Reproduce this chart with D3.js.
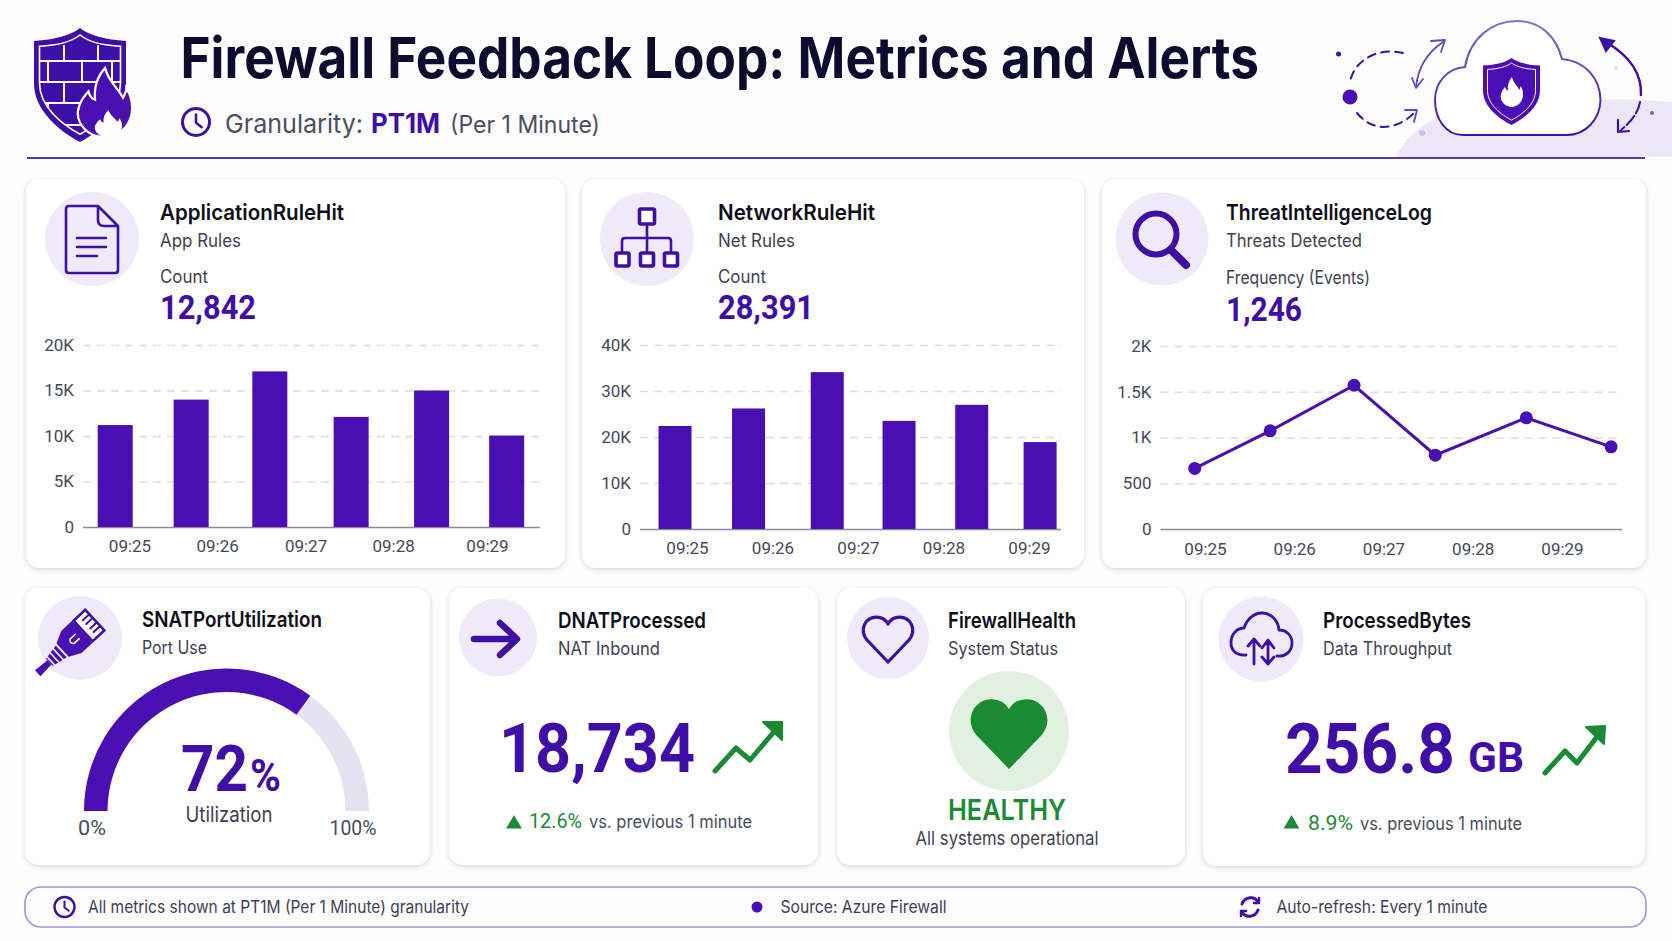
<!DOCTYPE html>
<html>
<head>
<meta charset="utf-8">
<script src="https://cdn.jsdelivr.net/npm/d3@7"></script>
<style>
  html, body { margin: 0; padding: 0; background: #fdfdfe; overflow: hidden; }
  text { font-family: Inter, sans-serif; }
  .num text, text.num { font-family: Roboto, sans-serif; }
</style>
</head>
<body>
<svg id="chart"></svg>
<script>
const width = 1672;
const height = 941;

const purple = '#4a0fb3';
const deep = '#3f0ea6';
const green = '#1b8a34';
const lilac = '#efeafa';

const timeLabels = ['09:25', '09:26', '09:27', '09:28', '09:29'];
const labelMinutes = [0, 1, 2, 3, 4];
const appLabelMinutes = [0, 0.98, 1.97, 2.95, 4]; // the labels in this card are not evenly spaced

// x values are minutes after 09:25, as read against the labels in the picture
const appRuleMinutes = [-0.16, 0.69, 1.57, 2.48, 3.38, 4.22];
const appRuleValues = [11200, 14000, 17100, 12100, 15000, 10050];
const appRuleTicks = [0, 5000, 10000, 15000, 20000];

const netRuleMinutes = [-0.14, 0.72, 1.64, 2.48, 3.33, 4.13];
const netRuleValues = [22400, 26200, 34100, 23500, 27000, 18900];
const netRuleTicks = [0, 10000, 20000, 30000, 40000];

const threatMinutes = [-0.115, 0.73, 1.67, 2.58, 3.6, 4.55];
const threatValues = [662, 1073, 1571, 807, 1215, 898];
const threatTicks = [0, 500, 1000, 1500, 2000];

const snatLabel = 72;
const snatArcValue = 70; // the arc in the picture stops a little short of its label

const svg = d3.select('#chart').attr('width', width).attr('height', height)
  .attr('viewBox', `0 0 ${width} ${height}`);

const defs = svg.append('defs');
const shadow = defs.append('filter').attr('id', 'cardShadow')
  .attr('x', '-5%').attr('y', '-5%').attr('width', '110%').attr('height', '112%');
shadow.append('feDropShadow').attr('dx', 0).attr('dy', 1.5).attr('stdDeviation', 2.5)
  .attr('flood-color', '#1a1640').attr('flood-opacity', 0.16);
const cloudGrad = defs.append('linearGradient').attr('id', 'cloudStroke')
  .attr('x1', 0).attr('y1', 0).attr('x2', 0).attr('y2', 1);
cloudGrad.append('stop').attr('offset', 0).attr('stop-color', '#8a70cc');
cloudGrad.append('stop').attr('offset', 1).attr('stop-color', '#3f0ea6');

const SHIELD = 'M50 0C60 8 78 13 100 14L100 60C100 90 72 112 50 124C28 112 0 90 0 60L0 14C22 13 40 8 50 0Z';
const FLAME = 'M52 0C58 26 72 34 84 56C88 48 90 44 90 38C104 62 104 92 88 112C78 124 64 130 50 130C30 130 10 118 4 94C0 74 10 58 22 44C24 52 28 58 34 60C32 36 38 16 52 0Z';
const HEART = 'M50 90L8 46C-8 26 4 0 27 0C38 0 46 6 50 14C54 6 62 0 73 0C96 0 108 26 92 46Z';

// text helper: w squeezes the string to the width it has in the picture
function label(g, str, x, y, size, opts = {}) {
  const t = g.append('text').attr('x', x).attr('y', y).text(str)
    .attr('font-size', size)
    .attr('font-weight', opts.weight || 400)
    .attr('fill', opts.color || '#3f4150')
    .attr('text-anchor', opts.anchor || 'start');
  if (opts.num) t.attr('class', 'num');
  if (opts.w) t.attr('textLength', opts.w).attr('lengthAdjust', 'spacingAndGlyphs');
  return t;
}

function card(x, y, w, h) {
  svg.append('rect').attr('x', x).attr('y', y).attr('width', w).attr('height', h)
    .attr('rx', 14).attr('fill', '#fff').attr('filter', 'url(#cardShadow)');
}

function badge(cx, cy, r) {
  svg.append('circle').attr('cx', cx).attr('cy', cy).attr('r', r).attr('fill', lilac);
}

function clockIcon(g, cx, cy, r, sw) {
  g.append('circle').attr('cx', cx).attr('cy', cy).attr('r', r)
    .attr('fill', 'none').attr('stroke', deep).attr('stroke-width', sw);
  g.append('path').attr('d', `M${cx} ${cy - r * 0.55}V${cy + r * 0.05}L${cx + r * 0.42} ${cy + r * 0.38}`)
    .attr('fill', 'none').attr('stroke', deep).attr('stroke-width', sw * 0.85)
    .attr('stroke-linecap', 'round').attr('stroke-linejoin', 'round');
}

function line(g, d, color, sw) {
  return g.append('path').attr('d', d).attr('fill', 'none').attr('stroke', color)
    .attr('stroke-width', sw).attr('stroke-linecap', 'round').attr('stroke-linejoin', 'round');
}

function axes(o) {
  const g = svg.append('g').attr('class', 'num');
  const x = d3.scaleLinear().domain([0, 4]).range(o.xRange);
  const y = d3.scaleLinear().domain(o.yDomain).range(o.yRange);
  const fmt = (d) => (d >= 1000 ? `${d / 1000}K` : `${d}`);

  const yAxis = g.append('g').attr('transform', `translate(${o.left},0)`)
    .call(d3.axisLeft(y).tickValues(o.ticks).tickFormat(fmt)
      .tickSize(o.left - o.right).tickPadding(9));
  yAxis.select('.domain').remove();
  yAxis.selectAll('.tick line')
    .attr('stroke', (d) => (d === 0 ? '#8b8b96' : '#dcdce2'))
    .attr('stroke-width', (d) => (d === 0 ? 1.6 : 1.4))
    .attr('stroke-dasharray', (d) => (d === 0 ? null : '8 6'));
  yAxis.selectAll('text').attr('font-size', 17).attr('fill', '#46485a');

  const xAxis = g.append('g').attr('transform', `translate(0,${o.labelY})`)
    .call(d3.axisBottom(x).tickValues(o.labelAt)
      .tickFormat((d) => timeLabels[o.labelAt.indexOf(d)])
      .tickSize(0).tickPadding(0));
  xAxis.select('.domain').remove();
  xAxis.selectAll('text').attr('font-size', 17).attr('fill', '#46485a');
  return { x, y };
}

function bars(scales, minutes, values, barW) {
  const base = scales.y(0);
  svg.append('g').selectAll('rect').data(values).join('rect')
    .attr('x', (d, i) => scales.x(minutes[i]) - barW / 2)
    .attr('y', (d) => scales.y(d))
    .attr('width', barW)
    .attr('height', (d) => base - scales.y(d))
    .attr('fill', purple);
}

function trendArrow(a, b, c, d, h1, h2, h3) {
  const g = svg.append('g');
  line(g, `M${a}L${b}L${c}L${d}`, green, 5);
  g.append('path').attr('d', `M${h1}L${h2}L${h3}Z`).attr('fill', green)
    .attr('stroke', green).attr('stroke-width', 2).attr('stroke-linejoin', 'round');
}

function deltaRow(tx, ty, pct, pctX, pctW, vsX, vsW, baseline) {
  svg.append('path').attr('d', d3.symbol(d3.symbolTriangle, 108)())
    .attr('transform', `translate(${tx},${ty})`).attr('fill', green);
  label(svg, pct, pctX, baseline, 19.5, { color: green, w: pctW, num: true });
  label(svg, 'vs. previous 1 minute', vsX, baseline, 18, { color: '#4a4c5c', w: vsW });
}

/* ---------- header ---------- */
svg.append('path')
  .attr('d', 'M1397 155C1410 132 1425 122 1445 116L1600 100C1625 98 1650 101 1672 102V157H1397Z')
  .attr('fill', '#ece7f7');

// shield logo
const logo = svg.append('g');
logo.append('path').attr('d', SHIELD).attr('transform', 'translate(34,28) scale(.92,.92)').attr('fill', deep);
logo.append('path').attr('d', SHIELD).attr('transform', 'translate(39.5,35) scale(.81,.8)')
  .attr('fill', 'none').attr('stroke', '#fff').attr('stroke-width', 2);
const brickClip = defs.append('clipPath').attr('id', 'brickClip');
brickClip.append('path').attr('d', SHIELD).attr('transform', 'translate(39.5,35) scale(.81,.8)');
const bricks = logo.append('g').attr('clip-path', 'url(#brickClip)');
line(bricks, 'M30 61H130M30 82H130M30 103H130M30 125H130M64 46V61M98 46V61M48 61V82M82 61V82M112 61V82M64 82V103M98 82V103M48 103V125M82 103V125', '#fff', 2);
logo.append('path').attr('d', FLAME).attr('transform', 'translate(76,68) scale(.56,.53)')
  .attr('fill', purple).attr('stroke', '#fff').attr('stroke-width', 4);
logo.append('path').attr('d', FLAME).attr('transform', 'translate(94,110) scale(.28,.21)').attr('fill', '#fff');

label(svg, 'Firewall Feedback Loop: Metrics and Alerts', 180.5, 78, 57, { weight: 700, color: '#0d0b2e', w: 1078.5 });
clockIcon(svg, 196, 122, 13.5, 3);
label(svg, 'Granularity:', 225, 133, 26, { color: '#4b4f5e', w: 138 });
label(svg, 'PT1M', 371, 133, 27, { weight: 700, color: deep, w: 69 });
label(svg, '(Per 1 Minute)', 450, 133, 24, { color: '#4b4f5e', w: 150 });
svg.append('line').attr('x1', 27).attr('x2', 1645).attr('y1', 158).attr('y2', 158)
  .attr('stroke', '#5a35ae').attr('stroke-width', 2);

// cloud decoration
const deco = svg.append('g');
deco.append('path')
  .attr('d', 'M1463 135C1445 135 1435 118 1435 100C1435 82 1448 68 1465 67C1470 38 1492 21 1517 21C1540 21 1556 36 1562 59C1585 61 1600 78 1600.5 100C1600 120 1585 135 1567 135Z')
  .attr('fill', '#fff').attr('stroke', 'url(#cloudStroke)').attr('stroke-width', 2);
deco.append('path').attr('d', SHIELD).attr('transform', 'translate(1483,58) scale(.57,.54)').attr('fill', purple);
deco.append('path').attr('d', SHIELD).attr('transform', 'translate(1487.5,63) scale(.48,.46)')
  .attr('fill', 'none').attr('stroke', '#fff').attr('stroke-width', 2);
deco.append('path').attr('d', FLAME).attr('transform', 'translate(1500,77) scale(.23,.23)').attr('fill', '#fff');
line(deco, 'M1403 53C1378 47 1354 60 1350 82', deep, 2).attr('stroke-dasharray', '8 6');
line(deco, 'M1357 113C1375 135 1400 128 1415 112', deep, 2).attr('stroke-dasharray', '8 6');
line(deco, 'M1405 110L1417 110L1414 122', '#6a45bb', 1.8);
deco.append('circle').attr('cx', 1350).attr('cy', 97).attr('r', 7.5).attr('fill', purple);
deco.append('circle').attr('cx', 1338.5).attr('cy', 54).attr('r', 2.5).attr('fill', purple);
line(deco, 'M1443 42C1428 52 1418 68 1416 87', '#6a45bb', 1.8);
line(deco, 'M1431 41L1445 40L1441 52M1412 78L1416 88L1423 79', '#6a45bb', 1.8);
line(deco, 'M1606 42C1628 55 1642 72 1641 95', deep, 2.4);
line(deco, 'M1640 102C1638 115 1628 124 1620 131', deep, 2).attr('stroke-dasharray', '12 3');
deco.append('path').attr('d', 'M1600 38L1614 41L1606 51Z').attr('fill', deep).attr('stroke', deep).attr('stroke-width', 2);
line(deco, 'M1618 120L1618 132L1629 131', deep, 2.2);
deco.append('circle').attr('cx', 1652).attr('cy', 113).attr('r', 2).attr('fill', '#7a62a8');
deco.append('circle').attr('cx', 1616).attr('cy', 68).attr('r', 2).attr('fill', '#e0dce8');
deco.append('circle').attr('cx', 1422).attr('cy', 133).attr('r', 3).attr('fill', '#cdc2e6');

/* ---------- top row ---------- */
card(26, 179, 539, 389);
badge(92, 239, 47);
const docIcon = svg.append('g');
line(docIcon, 'M69 206H98L118 226V270Q118 273 115 273H69Q66 273 66 270V209Q66 206 69 206ZM98 206V220Q98 226 104 226H118', deep, 2.6);
line(docIcon, 'M77 238H106M77 247H106M77 256H97', deep, 2.6);
label(svg, 'ApplicationRuleHit', 160, 220, 22, { weight: 600, color: '#0f0f1a', w: 184 });
label(svg, 'App Rules', 160, 247, 18, { w: 81 });
label(svg, 'Count', 160, 283, 18, { w: 48 });
label(svg, '12,842', 160, 319, 33, { weight: 700, color: deep, w: 96, num: true });
const appScales = axes({ xRange: [129.5, 487], yDomain: [0, 20000], yRange: [527, 345], ticks: appRuleTicks, left: 83, right: 540, labelY: 540, labelAt: appLabelMinutes });
bars(appScales, appRuleMinutes, appRuleValues, 35);

card(582, 179, 502, 389);
badge(647, 239, 47);
const netIcon = svg.append('g');
line(netIcon, 'M647 225V252M622 252V241Q622 238 625 238H668Q671 238 671 241V252', deep, 2.6);
[[647, 216.5, 15], [622.5, 259.5, 13], [647, 259.5, 13], [671, 259.5, 13]].forEach(([cx, cy, s]) => {
  netIcon.append('rect').attr('x', cx - s / 2).attr('y', cy - s / 2).attr('width', s).attr('height', s)
    .attr('rx', 1.5).attr('fill', '#fff').attr('stroke', deep).attr('stroke-width', 3.6);
});
label(svg, 'NetworkRuleHit', 718, 220, 22, { weight: 600, color: '#0f0f1a', w: 157 });
label(svg, 'Net Rules', 718, 247, 18, { w: 77 });
label(svg, 'Count', 718, 283, 18, { w: 48 });
label(svg, '28,391', 718, 319, 33, { weight: 700, color: deep, w: 96, num: true });
const netScales = axes({ xRange: [687, 1029], yDomain: [0, 40000], yRange: [529, 345], ticks: netRuleTicks, left: 640, right: 1061, labelY: 542, labelAt: labelMinutes });
bars(netScales, netRuleMinutes, netRuleValues, 33);

card(1102, 179, 544, 389);
badge(1162, 239, 46.5);
const lensIcon = svg.append('g');
lensIcon.append('circle').attr('cx', 1156).attr('cy', 234).attr('r', 20.5)
  .attr('fill', 'none').attr('stroke', deep).attr('stroke-width', 6);
line(lensIcon, 'M1172 251L1186 265', deep, 8);
label(svg, 'ThreatIntelligenceLog', 1226, 220, 22, { weight: 600, color: '#0f0f1a', w: 206 });
label(svg, 'Threats Detected', 1226, 247, 18, { w: 136 });
label(svg, 'Frequency (Events)', 1226, 284, 18, { w: 144 });
label(svg, '1,246', 1226, 320.5, 33, { weight: 700, color: deep, w: 76, num: true });
const threatScales = axes({ xRange: [1205, 1562], yDomain: [0, 2000], yRange: [529, 346], ticks: threatTicks, left: 1160.5, right: 1622, labelY: 543, labelAt: labelMinutes });
const threatLine = d3.line()
  .x((d, i) => threatScales.x(threatMinutes[i]))
  .y((d) => threatScales.y(d));
svg.append('path').datum(threatValues).attr('d', threatLine)
  .attr('fill', 'none').attr('stroke', purple).attr('stroke-width', 3);
svg.append('g').selectAll('circle').data(threatValues).join('circle')
  .attr('cx', (d, i) => threatScales.x(threatMinutes[i]))
  .attr('cy', (d) => threatScales.y(d))
  .attr('r', 6.5).attr('fill', purple);

/* ---------- bottom row ---------- */
card(25, 588, 405, 277);
badge(80, 638, 42);
const plug = svg.append('g').attr('transform', 'translate(67,646) rotate(47)');
plug.append('path').attr('d', 'M-14 -38H14V-22H-14Z').attr('fill', '#fff').attr('stroke', deep).attr('stroke-width', 2.6);
line(plug, 'M-8 -38V-29M-3 -38V-29M3 -38V-29M8 -38V-29', deep, 2);
plug.append('path').attr('d', 'M-15 -21H15L15 -6L9 6H-9L-15 -6Z').attr('fill', purple);
line(plug, 'M-3 -14V-7Q0 -3 3 -7V-14', '#fff', 1.5);
plug.append('path').attr('d', 'M-8 8H8L5 24H-5Z').attr('fill', purple);
line(plug, 'M-9 12H9M-8 17H8M-7 22H7', lilac, 1.6);
plug.append('path').attr('d', 'M-3 24H3L4 40H-4Z').attr('fill', purple);
label(svg, 'SNATPortUtilization', 142, 627, 22, { weight: 600, color: '#0f0f1a', w: 180 });
label(svg, 'Port Use', 142, 654, 18, { w: 65 });

// gauge
const gaugeAngle = d3.scaleLinear().domain([0, 100]).range([-Math.PI / 2, Math.PI / 2]);
const gaugeArc = d3.arc().innerRadius(119).outerRadius(142.5);
const gauge = svg.append('g').attr('transform', 'translate(226.5,811)');
gauge.append('path').attr('fill', '#e4e3ef')
  .attr('d', gaugeArc({ startAngle: gaugeAngle(0), endAngle: gaugeAngle(100) }));
gauge.append('path').attr('fill', purple)
  .attr('d', gaugeArc({ startAngle: gaugeAngle(0), endAngle: gaugeAngle(snatArcValue) }));
label(svg, `${snatLabel}`, 181, 791, 64, { weight: 700, color: deep, w: 67, num: true });
label(svg, '%', 250, 791, 44, { weight: 700, color: deep, w: 31, num: true });
label(svg, 'Utilization', 229, 822, 21, { anchor: 'middle', w: 87 });
label(svg, '0%', 92, 835, 20, { anchor: 'middle', color: '#4a4c5c', w: 28, num: true });
label(svg, '100%', 353, 835, 20, { anchor: 'middle', color: '#4a4c5c', w: 47, num: true });

card(449, 588, 369, 277);
badge(498, 637.5, 39);
const arrowIcon = svg.append('g');
line(arrowIcon, 'M474 639H516M500 623L517 639L500 655', deep, 6.5);
label(svg, 'DNATProcessed', 558, 627.5, 22, { weight: 600, color: '#0f0f1a', w: 148 });
label(svg, 'NAT Inbound', 558, 655, 18, { w: 102 });
label(svg, '18,734', 499, 772, 69, { weight: 700, color: deep, w: 196, num: true });
trendArrow('715 771', '736 748', '750 760', '778 727', '763 722', '782 722', '782 740');
deltaRow(514, 824, '12.6%', 529, 53, 589, 163, 828);

card(837, 588, 348, 277);
badge(888, 638, 41);
svg.append('path').attr('d', HEART).attr('transform', 'translate(863,617) scale(.5,.5)')
  .attr('fill', 'none').attr('stroke', deep).attr('stroke-width', 6.5).attr('stroke-linejoin', 'round');
label(svg, 'FirewallHealth', 948, 627.5, 22, { weight: 600, color: '#0f0f1a', w: 128 });
label(svg, 'System Status', 948, 655, 18, { w: 110 });
svg.append('circle').attr('cx', 1009).attr('cy', 731).attr('r', 60).attr('fill', '#e0f1e0');
svg.append('path').attr('d', HEART).attr('transform', 'translate(971,700) scale(.76,.755)')
  .attr('fill', green).attr('stroke', green).attr('stroke-width', 2).attr('stroke-linejoin', 'round');
label(svg, 'HEALTHY', 1007, 820, 29, { weight: 600, color: green, anchor: 'middle', w: 118 });
label(svg, 'All systems operational', 1007, 845, 18.5, { anchor: 'middle', w: 183 });

card(1203, 588, 442, 278);
badge(1261, 639, 42.5);
const cloudIcon = svg.append('g');
line(cloudIcon, 'M1246 655C1236 656 1231 650 1231 643C1231 634 1237 628 1244 628C1247 619 1254 613 1262 613C1271 613 1278 620 1279 630C1287 630 1292 636 1292 643C1292 651 1286 657 1277 656', deep, 2.8);
line(cloudIcon, 'M1254 664V640M1248 646L1254 639L1260 646M1268 641V663M1262 648L1268 640L1274 648M1262 657L1268 664L1274 657', deep, 2.8);
label(svg, 'ProcessedBytes', 1323, 628, 22, { weight: 600, color: '#0f0f1a', w: 148 });
label(svg, 'Data Throughput', 1323, 655, 18, { w: 129 });
label(svg, '256.8', 1285, 773, 71, { weight: 700, color: deep, w: 170, num: true });
label(svg, 'GB', 1468, 772, 43, { weight: 700, color: deep, w: 56, num: true });
trendArrow('1545 773', '1565 751', '1577 763', '1603 729', '1586 727', '1605 726', '1604 744');
deltaRow(1291.5, 824, '8.9%', 1308, 45, 1360, 162, 830);

/* ---------- footer ---------- */
svg.append('rect').attr('x', 25).attr('y', 887).attr('width', 1621).attr('height', 40).attr('rx', 16)
  .attr('fill', '#fdfcff').attr('stroke', '#a594dc').attr('stroke-width', 1.6);
clockIcon(svg, 64.5, 907, 10, 2.4);
label(svg, 'All metrics shown at PT1M (Per 1 Minute) granularity', 88, 913, 17, { w: 381 });
svg.append('circle').attr('cx', 757).attr('cy', 907).attr('r', 5.5).attr('fill', purple);
label(svg, 'Source: Azure Firewall', 780.5, 913, 17, { w: 166 });
const refresh = svg.append('g');
line(refresh, 'M1242 904C1245 896 1255 896 1258 902M1258 910C1255 918 1245 918 1242 912', deep, 3);
line(refresh, 'M1259 898V903H1254M1241 916V911H1246', deep, 2.4);
label(svg, 'Auto-refresh: Every 1 minute', 1276.5, 913, 17, { w: 211 });
</script>
</body>
</html>
